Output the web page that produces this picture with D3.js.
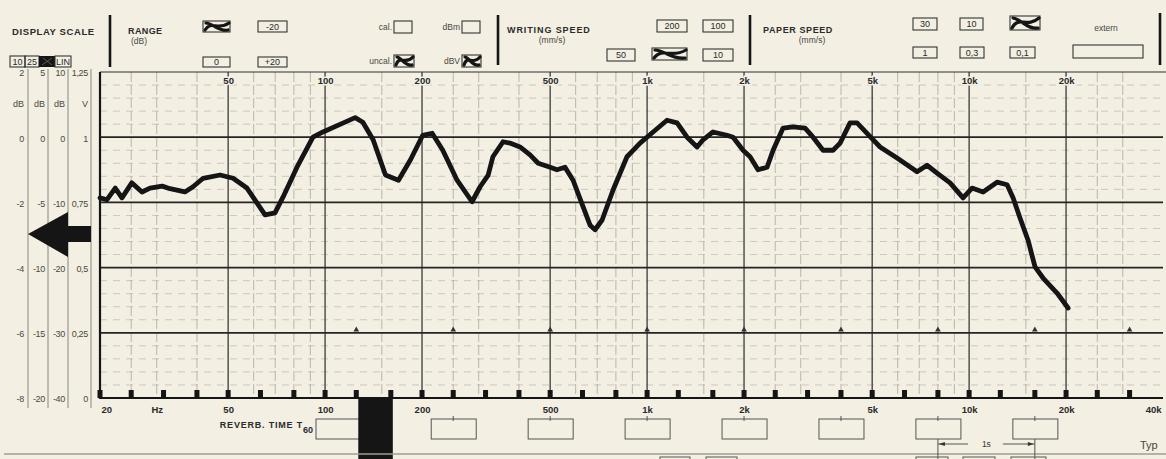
<!DOCTYPE html>
<html>
<head>
<meta charset="utf-8">
<script src="https://cdn.jsdelivr.net/npm/d3@7"></script>
<style>
  html, body { margin: 0; padding: 0; background: #f3efe3; }
  svg { display: block; }
  text { font-family: "Liberation Sans", Arial, Helvetica, sans-serif; }
</style>
</head>
<body>
<svg id="chart" width="1166" height="459"></svg>
<script>
// ---- Measured response (frequency in Hz, level in dB on the 10 dB column) ----
const freqHz = [20, 21, 22.3, 23.4, 25.1, 27, 28.6, 31.2, 33, 36.7,
  38.9, 41.8, 47.2, 51.8, 57.2, 61.5, 65.1, 69.9, 74, 81.8,
  91.7, 98.5, 114, 124, 131, 141, 154, 169, 184, 201,
  215, 232, 257, 286, 303, 321, 332, 357, 375, 403,
  433, 459, 500, 525, 556, 589, 633, 665, 689, 725,
  784, 866, 951, 1044, 1153, 1239, 1331, 1429, 1492, 1602,
  1771, 1849, 1986, 2088, 2210, 2358, 2462, 2644, 2840, 3094,
  3276, 3518, 3780, 3974, 4268, 4488, 4820, 5290, 5974, 6892,
  7402, 7952, 8726, 9574, 10210, 11050, 12210, 13120, 13690, 14390,
  15240, 16020, 16970, 18750, 20290];
const levelDb = [-9.3, -9.6, -7.8, -9.3, -7.0, -8.4, -7.8, -7.5, -7.9, -8.4,
  -7.6, -6.3, -5.8, -6.3, -7.8, -10.1, -11.9, -11.6, -9.2, -4.6,
  0.0, 0.8, 2.2, 3.0, 2.3, -0.4, -5.8, -6.6, -3.5, 0.3,
  0.6, -2.0, -6.6, -9.9, -7.6, -5.8, -3.0, -0.7, -0.9, -1.5,
  -2.7, -4.0, -4.6, -5.0, -4.6, -6.6, -10.7, -13.5, -14.2, -12.7,
  -8.1, -3.0, -0.9, 0.8, 2.6, 2.2, 0.0, -1.5, -0.4, 0.8,
  0.3, 0.0, -2.0, -3.0, -5.0, -4.6, -2.0, 1.4, 1.6, 1.4,
  0.0, -2.0, -2.0, -0.9, 2.2, 2.2, 0.6, -1.5, -3.2, -5.3,
  -4.3, -5.5, -7.0, -9.3, -7.8, -8.4, -6.9, -7.3, -9.3, -12.4,
  -15.8, -19.9, -21.6, -23.9, -26.2];

// ---- Frequency grid and labels ----
const majorGridHz = [50, 100, 200, 500, 1000, 2000, 5000, 10000, 20000];
const minorGridHz = [25, 30, 40, 60, 70, 80, 90, 150, 250, 300, 400, 600, 700, 800, 900,
  1500, 2500, 3000, 4000, 6000, 7000, 8000, 9000, 15000, 25000, 30000];
const topTickHz = [50, 100, 200, 500, 1000, 2000, 5000, 10000, 20000];
const topTickText = ["50", "100", "200", "500", "1k", "2k", "5k", "10k", "20k"];
const bottomTickHz = [20, 30, 50, 100, 200, 500, 1000, 2000, 5000, 10000, 20000, 40000];
const bottomTickText = ["20", "Hz", "50", "100", "200", "500", "1k", "2k", "5k", "10k", "20k", "40k"];
const thirdOctaveHz = [20, 25, 31.5, 40, 50, 63, 80, 100, 125, 160, 200, 250, 315, 400, 500, 630, 800,
  1000, 1250, 1600, 2000, 2500, 3150, 4000, 5000, 6300, 8000, 10000, 12500, 16000, 20000, 25000, 31500];
const octaveHz = [125, 250, 500, 1000, 2000, 4000, 8000, 16000, 31500];
const reverbBoxHz = [250, 500, 1000, 2000, 4000, 8000, 16000];

// ---- Level grid and the four printed scale columns ----
const majorDb = [0, -10, -20, -30];
const scaleRowDb = [10, 0, -10, -20, -30, -40];
const scaleCol2dB = ["2", "0", "-2", "-4", "-6", "-8"];
const scaleCol5dB = ["5", "0", "-5", "-10", "-15", "-20"];
const scaleCol10dB = ["10", "0", "-10", "-20", "-30", "-40"];
const scaleColV = ["1,25", "1", "0,75", "0,5", "0,25", "0"];
const scaleUnits = ["dB", "dB", "dB", "V"];

const paper = "#f3efe3", ink = "#151515", print = "#2b2b2b";
const svg = d3.select("#chart");
svg.append("rect").attr("width", 1166).attr("height", 459).attr("fill", paper);

const x = d3.scaleLog().domain([20, 40000]).range([100, 1163]);
const y = d3.scaleLinear().domain([-40, 10]).range([398, 72]);
const xL = x.range()[0], xR = x.range()[1], yT = y.range()[1], yB = y.range()[0];

// ---- Grid ----
const grid = svg.append("g");
grid.selectAll(".hminor").data(d3.range(-38, 10, 2).filter(v => v % 10 !== 0)).join("line")
  .attr("x1", xL).attr("x2", xR).attr("y1", d => y(d)).attr("y2", d => y(d))
  .attr("stroke", "#b3aea1").attr("stroke-width", 0.8).attr("stroke-dasharray", "7,6")
  .attr("opacity", 0.75);
grid.selectAll(".vminor").data(minorGridHz).join("line")
  .attr("x1", d => x(d)).attr("x2", d => x(d)).attr("y1", yT).attr("y2", yB)
  .attr("stroke", "#aaa598").attr("stroke-width", 0.9).attr("stroke-dasharray", "10,3")
  .attr("opacity", 0.85);
grid.selectAll(".vmajor").data(majorGridHz).join("line")
  .attr("x1", d => x(d)).attr("x2", d => x(d)).attr("y1", yT).attr("y2", yB)
  .attr("stroke", "#3a3a3a").attr("stroke-width", 1.3);
grid.selectAll(".hmajor").data(majorDb).join("line")
  .attr("x1", xL).attr("x2", xR).attr("y1", d => y(d)).attr("y2", d => y(d))
  .attr("stroke", "#242424").attr("stroke-width", 1.7);
grid.append("line").attr("x1", xL).attr("x2", 1166).attr("y1", yT).attr("y2", yT)
  .attr("stroke", "#2e2e2e").attr("stroke-width", 1.2);
grid.append("line").attr("x1", xL).attr("x2", xL).attr("y1", yT).attr("y2", yB + 1)
  .attr("stroke", ink).attr("stroke-width", 2.2);
grid.append("line").attr("x1", xL - 1).attr("x2", xR).attr("y1", yB).attr("y2", yB)
  .attr("stroke", ink).attr("stroke-width", 2.2);

// octave markers on the -30 dB line
grid.selectAll(".oct").data(octaveHz).join("path")
  .attr("d", d3.symbol(d3.symbolTriangle, 14))
  .attr("transform", d => `translate(${x(d)},${y(-30) - 3})`)
  .attr("fill", "#333");

// one-third-octave marks on the base line
grid.selectAll(".third").data(thirdOctaveHz).join("rect")
  .attr("x", d => x(d) - 2.5).attr("y", yB - 8).attr("width", 5).attr("height", 8)
  .attr("fill", ink);

// ---- Frequency labels ----
const topAxis = svg.append("g").attr("transform", `translate(0,${yT + 12})`)
  .call(d3.axisTop(x).tickValues(topTickHz).tickFormat((d, i) => topTickText[i]).tickSize(0).tickPadding(0));
const botAxis = svg.append("g").attr("transform", `translate(0,${yB + 15})`)
  .call(d3.axisBottom(x).tickValues(bottomTickHz).tickFormat((d, i) => bottomTickText[i]).tickSize(0).tickPadding(0));
[topAxis, botAxis].forEach(a => {
  a.select(".domain").remove();
  a.selectAll("text").attr("y", 0).attr("dy", 0)
    .attr("font-family", "Liberation Sans, Arial, sans-serif")
    .attr("font-size", 9.5).attr("font-weight", "bold").attr("fill", "#2a2a2a")
    .attr("stroke", paper).attr("stroke-width", 3).attr("paint-order", "stroke");
});
botAxis.selectAll("text").filter(d => d === 20).attr("text-anchor", "start").attr("dx", 1);
botAxis.selectAll("text").filter(d => d === 40000).attr("text-anchor", "end").attr("dx", -2);

// ---- Scale columns on the left ----
const colLinesX = [28, 48, 68, 91];
svg.selectAll(".colline").data(colLinesX).join("line")
  .attr("x1", d => d).attr("x2", d => d).attr("y1", 69).attr("y2", 408)
  .attr("stroke", "#8a867b").attr("stroke-width", 1);
const colRight = [24, 45, 65, 88];
[scaleCol2dB, scaleCol5dB, scaleCol10dB, scaleColV].forEach((labels, ci) => {
  const ax = svg.append("g").attr("transform", `translate(${colRight[ci]},1)`)
    .call(d3.axisLeft(y).tickValues(scaleRowDb).tickFormat((d, i) => labels[i]).tickSize(0).tickPadding(0));
  ax.select(".domain").remove();
  ax.selectAll("text").attr("font-family", "Liberation Sans, Arial, sans-serif")
    .attr("font-size", 9).attr("fill", "#4a4740").attr("letter-spacing", -0.3)
    .attr("stroke", paper).attr("stroke-width", 2).attr("paint-order", "stroke");
  svg.append("text").attr("x", colRight[ci]).attr("y", 107).attr("text-anchor", "end")
    .attr("font-size", 9).attr("fill", "#4a4740").text(scaleUnits[ci]);
});
// level pointer arrow
svg.append("path").attr("d", "M28,234 L68,212 L68,226 L91,226 L91,242 L68,242 L68,257 Z").attr("fill", ink);

// ---- Response curve ----
const pts = freqHz.map((f, i) => [f, levelDb[i]]);
svg.append("path").datum(pts)
  .attr("d", d3.line().x(d => x(d[0])).y(d => y(d[1])).curve(d3.curveLinear))
  .attr("fill", "none").attr("stroke", ink).attr("stroke-width", 4.8)
  .attr("stroke-linejoin", "round").attr("stroke-linecap", "round");

// ---- Header control panel ----
const hdr = svg.append("g");
function txt(px, py, t, size, bold, anchor, spacing) {
  return hdr.append("text").attr("x", px).attr("y", py).attr("font-size", size)
    .attr("font-weight", bold ? "bold" : "normal").attr("fill", bold ? print : "#4a4740")
    .attr("letter-spacing", spacing || 0)
    .attr("text-anchor", anchor || "start").text(t);
}
function box(x0, y0, x1, y1, t) {
  hdr.append("rect").attr("x", x0).attr("y", y0).attr("width", x1 - x0).attr("height", y1 - y0)
    .attr("fill", "none").attr("stroke", "#333").attr("stroke-width", 1.1);
  if (t) hdr.append("text").attr("x", (x0 + x1) / 2).attr("y", (y0 + y1) / 2 + 3.3)
    .attr("text-anchor", "middle").attr("font-size", 9).attr("fill", "#2a2a2a").text(t);
}
function ticked(x0, y0, x1, y1) {
  box(x0, y0, x1, y1);
  const w = x1 - x0, h = y1 - y0;
  hdr.append("path")
    .attr("d", `M${x0 + 2},${y1 - 2} C${x0 + w * 0.3},${y0 - 1} ${x0 + w * 0.55},${y0 + h * 0.9} ${x1 - 1},${y0 + 2}` +
      ` M${x0 + 3},${y0 + 2} C${x0 + w * 0.35},${y0 + h * 0.2} ${x0 + w * 0.6},${y1} ${x1 - 2},${y1 - 2}`)
    .attr("fill", "none").attr("stroke", ink).attr("stroke-width", 3.2).attr("stroke-linecap", "round");
}
// section separators
[[110, 15, 67], [498, 15, 65], [750, 15, 65], [1160, 13, 65]].forEach(s =>
  hdr.append("line").attr("x1", s[0]).attr("x2", s[0]).attr("y1", s[1]).attr("y2", s[2])
    .attr("stroke", ink).attr("stroke-width", 2.6));

txt(12, 35, "DISPLAY SCALE", 9.5, true, "start", 0.6);
box(10, 56, 25, 67, "10");
box(25, 56, 39, 67, "25");
hdr.append("rect").attr("x", 39).attr("y", 56).attr("width", 16).attr("height", 11).attr("fill", ink);
hdr.append("path").attr("d", "M42,65 L52,58 M43,58 L52,65").attr("stroke", "#6d6a62").attr("stroke-width", 0.8);
box(55, 56, 71, 67, "LIN");

txt(128, 34, "RANGE", 9, true, "start", 0.4);
txt(131, 44, "(dB)", 8.5, false);
ticked(203, 21, 230, 32);
box(258, 21, 287, 32, "-20");
box(203, 57, 230, 67, "0");
box(258, 57, 287, 67, "+20");

txt(392, 30, "cal.", 8.5, false, "end");
box(394, 21, 412, 33);
txt(392, 64, "uncal.", 8.5, false, "end");
ticked(394, 55, 414, 67);
txt(460, 30, "dBm", 8.5, false, "end");
box(462, 21, 480, 33);
txt(460, 64, "dBV", 8.5, false, "end");
ticked(462, 55, 481, 67);

txt(507, 33, "WRITING SPEED", 9, true, "start", 0.9);
txt(552, 43, "(mm/s)", 8.5, false, "middle");
box(657, 20, 687, 32, "200");
box(703, 20, 733, 32, "100");
box(607, 49, 635, 61, "50");
ticked(652, 48, 687, 60);
box(703, 49, 733, 61, "10");

txt(763, 33, "PAPER SPEED", 9, true, "start", 0.6);
txt(812, 43, "(mm/s)", 8.5, false, "middle");
box(913, 18, 937, 30, "30");
box(960, 18, 983, 30, "10");
ticked(1010, 16, 1040, 30);
box(913, 47, 937, 58, "1");
box(960, 47, 984, 58, "0,3");
box(1010, 47, 1035, 58, "0,1");
txt(1106, 31, "extern", 8.5, false, "middle");
box(1073, 45, 1143, 58);

// ---- Reverberation-time strip ----
const rev = svg.append("g");
rev.append("text").attr("x", 303).attr("y", 428).attr("text-anchor", "end").attr("letter-spacing", 0.8)
  .attr("font-size", 9).attr("font-weight", "bold").attr("fill", print).text("REVERB. TIME T");
rev.append("text").attr("x", 303).attr("y", 433).attr("font-size", 9).attr("font-weight", "bold")
  .attr("fill", print).text("60");
rev.append("rect").attr("x", 316).attr("y", 419).attr("width", 45).attr("height", 20)
  .attr("fill", "none").attr("stroke", "#555").attr("stroke-width", 1);
rev.selectAll(".rbox").data(reverbBoxHz).join("rect")
  .attr("x", d => x(d) - 22).attr("y", 419).attr("width", 45).attr("height", 20)
  .attr("fill", "none").attr("stroke", "#555").attr("stroke-width", 1);
rev.selectAll(".rtick").data(reverbBoxHz).join("line")
  .attr("x1", d => x(d)).attr("x2", d => x(d)).attr("y1", 416).attr("y2", 421)
  .attr("stroke", "#555").attr("stroke-width", 1);
rev.append("rect").attr("x", x(125) + 2).attr("y", yB - 1).attr("width", x(160) - x(125)).attr("height", 62)
  .attr("fill", ink);
// page edge line
rev.append("line").attr("x1", 4).attr("x2", 1166).attr("y1", 454).attr("y2", 454)
  .attr("stroke", "#a19d92").attr("stroke-width", 1.4);
// 1 s time scale
const t0 = x(8000), t1 = x(16000);
[t0, t1].forEach(v => rev.append("line").attr("x1", v).attr("x2", v).attr("y1", 439).attr("y2", 459)
  .attr("stroke", "#555").attr("stroke-width", 1));
rev.append("line").attr("x1", t0).attr("x2", t0 + 30).attr("y1", 444).attr("y2", 444).attr("stroke", "#555");
rev.append("line").attr("x1", t1 - 32).attr("x2", t1).attr("y1", 444).attr("y2", 444).attr("stroke", "#555");
rev.append("path").attr("d", `M${t0 + 1},444 l6,-2 v4 Z M${t1 - 1},444 l-6,-2 v4 Z`).attr("fill", "#333");
rev.append("text").attr("x", (t0 + t1) / 2).attr("y", 447).attr("text-anchor", "middle")
  .attr("font-size", 8.5).attr("fill", "#333").text("1s");
rev.append("text").attr("x", 1140).attr("y", 449).attr("font-size", 11).attr("fill", "#4a4740").text("Typ");
// tops of the next panel row
[[660, 690], [706, 737], [916, 948], [963, 995], [1011, 1046]].forEach(b =>
  rev.append("rect").attr("x", b[0]).attr("y", 457).attr("width", b[1] - b[0]).attr("height", 8)
    .attr("fill", "none").attr("stroke", "#555").attr("stroke-width", 1));
</script>
</body>
</html>
